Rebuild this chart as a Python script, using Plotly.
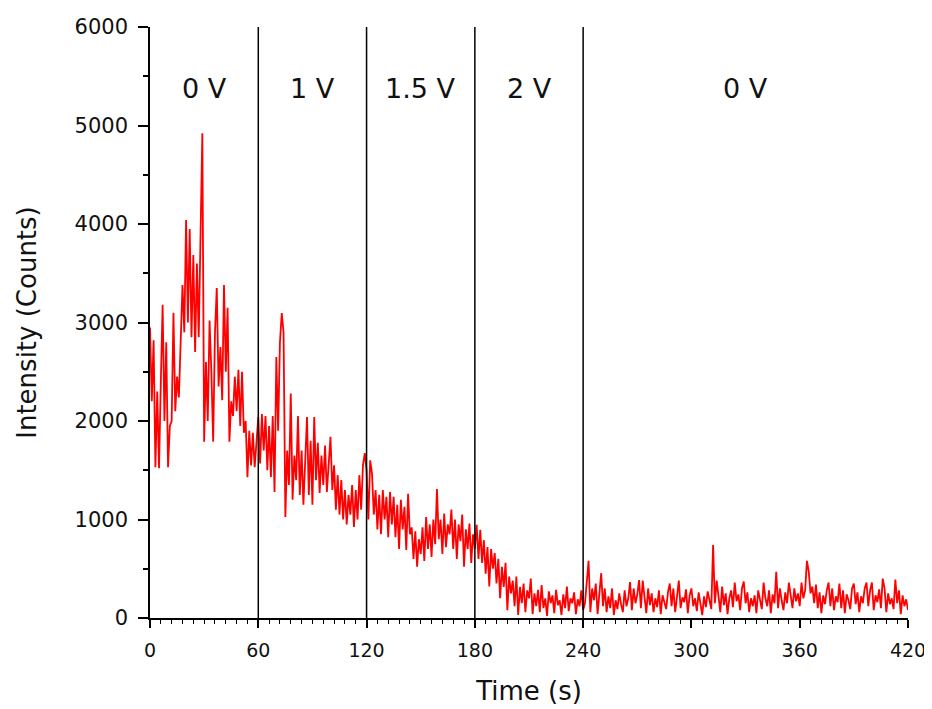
import plotly.graph_objects as go

# ---- data ----
intensity = [
    2950, 2200, 2820, 1530, 2300, 1520, 2400, 3180, 2000, 2800,   # 0-9
    1530, 1950, 2000, 3100, 2100, 2450, 2240, 2770, 3380, 2900,   # 10-19
    4040, 3000, 3950, 2850, 3685, 2700, 3600, 2850, 3800, 4920,   # 20-29
    1790, 2600, 2000, 3020, 2500, 1790, 2900, 3350, 2350, 2750,   # 30-39
    2210, 3380, 2500, 3150, 1790, 2200, 2050, 2450, 2100, 2520,   # 40-49
    1950, 2500, 1880, 2000, 1430, 1900, 1550, 1880, 1530, 1750,   # 50-59
    2040, 1570, 2070, 1700, 2050, 1500, 1950, 1430, 2050, 1280,   # 60-69
    2650, 1900, 2800, 3095, 2900, 1025, 1700, 1350, 2280, 1200,   # 70-79
    1650, 1400, 2050, 1250, 1700, 1150, 1550, 2040, 1250, 1800,   # 80-89
    1150, 2040, 1400, 1780, 1270, 1650, 1350, 1750, 1280, 1600,   # 90-99
    1840, 1300, 1550, 1100, 1450, 1050, 1400, 1000, 1300, 950,    # 100-109
    1250, 1050, 1350, 925, 1300, 1000, 1450, 1100, 1550, 1675,    # 110-119
    1500, 1000, 1600, 1470, 1050, 1300, 900, 1250, 850, 1300,     # 120-129
    1000, 1230, 820, 1280, 950, 1230, 820, 1150, 700, 1200,       # 130-139
    900, 1130, 690, 1260, 850, 920, 600, 880, 520, 800,           # 140-149
    650, 920, 580, 1025, 700, 950, 620, 1000, 750, 1310,          # 150-159
    800, 1000, 650, 1060, 720, 950, 850, 1100, 700, 1000,         # 160-169
    600, 950, 780, 1050, 520, 900, 700, 960, 560, 850,            # 170-179
    700, 945, 600, 895, 560, 790, 450, 720, 320, 700,             # 180-189
    500, 660, 350, 600, 200, 520, 315, 560, 80, 420,              # 190-199
    250, 380, 120, 420, 30, 315, 150, 350, 60, 280,               # 200-209
    200, 400, 40, 250, 120, 285, 60, 335, 100, 200,               # 210-219
    20, 270, 150, 230, 50, 285, 130, 180, 30, 240,                # 220-229
    100, 320, 70, 200, 150, 260, 40, 190, 120, 280,               # 230-239
    80, 150, 380, 580, 60, 300, 180, 350, 40, 250,                # 240-249
    455, 120, 300, 60, 220, 100, 300, 30, 180, 90,                # 250-259
    250, 140, 60, 280, 120, 200, 365, 80, 300, 150,               # 260-269
    240, 385, 100, 380, 200, 50, 300, 130, 250, 60,               # 270-279
    200, 110, 280, 40, 230, 150, 90, 260, 350, 120,               # 280-289
    300, 60, 250, 380, 100, 210, 160, 290, 50, 230,               # 290-299
    300, 120, 200, 70, 260, 150, 30, 220, 110, 270,               # 300-309
    180, 90, 740, 150, 380, 200, 60, 320, 130, 250,               # 310-319
    40, 200, 280, 110, 360, 170, 240, 80, 300, 370,               # 320-329
    150, 260, 60, 200, 120, 230, 50, 280, 160, 90,                # 330-339
    360, 200, 120, 280, 50, 240, 150, 470, 100, 300,              # 340-349
    180, 80, 260, 150, 360, 220, 100, 300, 170, 250,              # 350-359
    120, 360, 200, 280, 580, 470, 250, 320, 150, 340,             # 360-369
    100, 260, 50, 230, 140, 280, 360, 120, 300, 80,               # 370-379
    220, 160, 350, 100, 280, 50, 240, 180, 90, 300,               # 380-389
    350, 140, 260, 60, 220, 150, 300, 360, 120, 280,              # 390-399
    360, 80, 230, 160, 290, 100, 400, 300, 60, 250,               # 400-409
    140, 200, 90, 390, 150, 280, 40, 230, 120, 190,               # 410-419
    80,                                                           # 420
]
time_s = list(range(len(intensity)))

boundaries = [60, 120, 180, 240]
segment_centers = [30, 90, 150, 210, 330]
segment_labels = ["0 V", "1 V", "1.5 V", "2 V", "0 V"]
label_y = 5380

x_range = [0, 420]
y_range = [0, 6000]

FONT = "DejaVu Sans, Verdana, sans-serif"
TXT = "#111111"

fig = go.Figure()
fig.add_trace(go.Scatter(
    x=time_s, y=intensity, mode="lines",
    line=dict(color="#ff0000", width=1.8),
    showlegend=False, hoverinfo="x+y",
))

for b in boundaries:
    fig.add_shape(type="line", xref="x", yref="y", x0=b, x1=b,
                  y0=y_range[0], y1=y_range[1],
                  line=dict(color="black", width=1.5), layer="above")

for xc, txt in zip(segment_centers, segment_labels):
    fig.add_annotation(x=xc, y=label_y, xref="x", yref="y", text=txt,
                       showarrow=False, font=dict(family=FONT, size=27, color=TXT))

common_axis = dict(showgrid=False, zeroline=False, showline=True,
                   linecolor="black", linewidth=1.5, tickcolor="black",
                   tickwidth=1.5, automargin=False)

# page body has an 8px margin, so the figure is drawn 8px right/down;
# size the figure so it fits exactly in the 932x709 window
fig.update_layout(
    width=924, height=701,
    margin=dict(l=142, r=24, t=19, b=91, autoexpand=False),
    paper_bgcolor="white", plot_bgcolor="white",
    font=dict(family=FONT, color=TXT),
    xaxis=dict(
        range=x_range, tick0=0, dtick=60, ticks="outside", ticklen=8,
        minor=dict(dtick=6, ticks="outside", ticklen=4, tickwidth=1, tickcolor="black"),
        tickfont=dict(family=FONT, size=19, color=TXT),
        ticklabelstandoff=6,
        title=dict(text="Time (s)", font=dict(family=FONT, size=26, color=TXT), standoff=22),
        **common_axis,
    ),
    xaxis2=dict(
        range=x_range, overlaying="x", side="top", tick0=0, dtick=60,
        ticks="inside", ticklen=6, showticklabels=False,
        minor=dict(dtick=6, ticks="inside", ticklen=4, tickwidth=1, tickcolor="black"),
        **common_axis,
    ),
    xaxis3=dict(
        range=x_range, overlaying="x", side="bottom", tick0=0, dtick=60,
        ticks="inside", ticklen=6, showticklabels=False, automargin=False,
        showgrid=False, zeroline=False, showline=False, tickcolor="black", tickwidth=1.5,
    ),
    yaxis=dict(
        range=y_range, tick0=0, dtick=1000, ticks="outside", ticklen=10,
        minor=dict(dtick=500, ticks="outside", ticklen=5, tickwidth=1.5, tickcolor="black"),
        tickfont=dict(family=FONT, size=21, color=TXT),
        ticklabelstandoff=6,
        title=dict(text="Intensity (Counts)", font=dict(family=FONT, size=26, color=TXT), standoff=30),
        **common_axis,
    ),
    yaxis2=dict(
        range=y_range, overlaying="y", side="right", tick0=0, dtick=1000,
        ticks="inside", ticklen=10, showticklabels=False,
        minor=dict(dtick=500, ticks="inside", ticklen=5, tickwidth=1.5, tickcolor="black"),
        **common_axis,
    ),
)

fig.write_html("out.html")
